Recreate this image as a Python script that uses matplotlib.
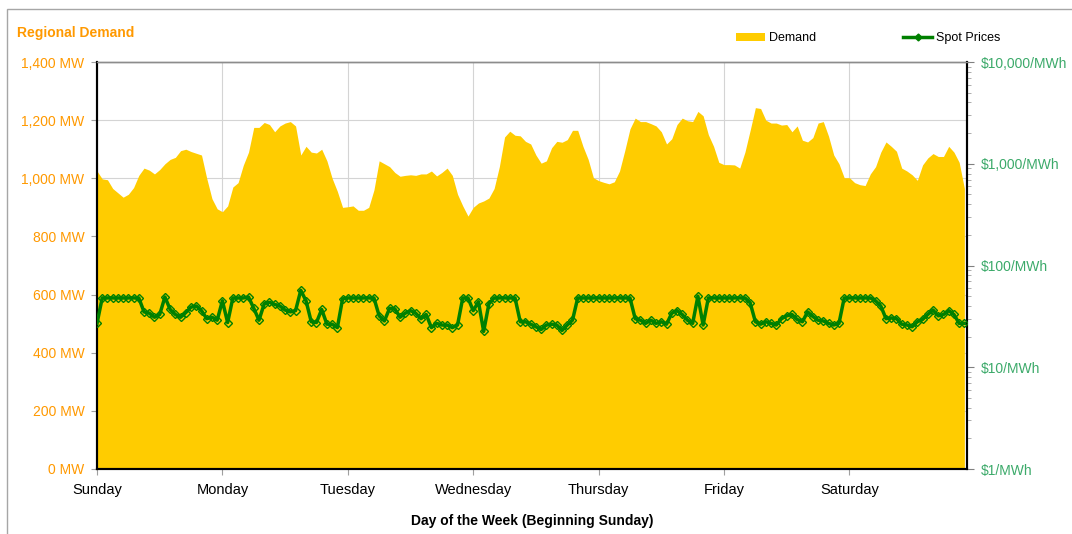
import numpy as np
import matplotlib
matplotlib.use("Agg")
import matplotlib.pyplot as plt
from matplotlib.patches import Patch, Rectangle
from matplotlib.lines import Line2D
from matplotlib.ticker import FixedLocator, LogLocator, NullFormatter

plt.rcParams['font.family'] = ['Liberation Sans', 'DejaVu Sans']

# === 資料 (每小時) ===
demand_mw = [
    1025, 998, 995, 965, 950, 935, 945, 968, 1010, 1035, 1028, 1015,
    1030, 1050, 1065, 1072, 1095, 1100, 1092, 1086, 1080, 1000, 930, 895,
    885, 905, 970, 985, 1045, 1090, 1175, 1175, 1192, 1185, 1160, 1180,
    1190, 1195, 1180, 1080, 1110, 1090, 1087, 1100, 1060, 1000, 955, 900,
    902, 905, 890, 890, 900, 960, 1060, 1050, 1040, 1020, 1007, 1010,
    1012, 1010, 1015, 1015, 1025, 1008, 1020, 1035, 1010, 945, 905, 870,
    900, 915, 922, 932, 965, 1040, 1142, 1162, 1148, 1146, 1127, 1118,
    1080, 1052, 1060, 1105, 1127, 1124, 1133, 1165, 1165, 1110, 1065, 1002,
    992, 986, 981, 988, 1025, 1095, 1170, 1207, 1195, 1195, 1188, 1180,
    1160, 1118, 1136, 1185, 1207, 1198, 1195, 1230, 1215, 1150, 1110, 1055,
    1047, 1047, 1046, 1035, 1090, 1165, 1243, 1240, 1200, 1190, 1190, 1183,
    1185, 1160, 1180, 1131, 1125, 1140, 1190, 1195, 1145, 1080, 1050, 1002,
    1002, 985, 978, 975, 1015, 1040, 1090, 1125, 1110, 1093, 1035, 1025,
    1012, 993, 1046, 1070, 1085, 1075, 1075, 1110, 1090, 1055, 965,
]

spot_price = [
    27, 48, 48, 48, 48, 48, 48, 48, 48, 35, 34, 31,
    33, 49, 37, 33, 31, 34.5, 39, 40, 36, 30, 31, 29,
    45, 27.5, 48, 48, 48, 49, 38, 29, 42, 43.5, 41.5, 40,
    36.5, 35, 36, 57, 45, 28, 27.5, 37, 26.5, 26.5, 24.5, 47,
    48, 48, 48, 48, 48, 48, 32, 28.5, 38, 37.5, 31, 34,
    36, 34, 30, 33, 24.5, 27, 26, 26, 24.5, 26, 48, 48,
    36, 44, 22.5, 42, 48, 48, 48, 48, 48, 28, 28, 26.5,
    25, 23.5, 26, 26.5, 26, 23, 26, 29, 48, 48, 48, 48,
    48, 48, 48, 48, 48, 48, 48, 30, 29, 27, 29, 27,
    28, 26.5, 34, 36, 33, 29, 27, 50, 26, 48, 48, 48,
    48, 48, 48, 48, 48, 43, 28, 26.5, 28, 27, 26, 30,
    32, 33, 29.5, 28, 35, 31.5, 29, 28.5, 27, 26, 27, 48,
    48, 48, 48, 48, 48, 45, 40, 30, 30.5, 30, 26.5, 26,
    25, 28, 29.5, 33, 36.5, 32, 33, 36, 33, 27, 27,
]

day_labels = ["Sunday", "Monday", "Tuesday", "Wednesday", "Thursday", "Friday", "Saturday"]
mw_ticks = [0, 200, 400, 600, 800, 1000, 1200, 1400]
price_ticks = [1, 10, 100, 1000, 10000]

hours = np.arange(len(demand_mw))

# === 顏色 ===
orange = "#FF9900"
yellow = "#FFCC00"
green = "#008000"
price_label_color = "#3CAA6A"

fig = plt.figure(figsize=(10.72, 5.34), dpi=100)
W, H = 1072, 534
ax = fig.add_axes([97 / W, 1 - 469 / H, (967 - 97) / W, (469 - 62) / H])

# 外框
fig.patches.append(Rectangle((7 / W, -0.2), 1.2, 1.2 - 9 / H, transform=fig.transFigure,
                             fill=False, edgecolor="#A6A6A6", linewidth=1.0, zorder=0))

ax.fill_between(hours, 0, demand_mw, color=yellow, linewidth=0, zorder=2)
ax.set_xlim(0, 166.5)
ax.set_ylim(0, 1400)
ax.set_axisbelow(True)

ax.yaxis.set_major_locator(FixedLocator(mw_ticks))
ax.set_yticklabels([f"{v:,} MW" for v in mw_ticks])
ax.xaxis.set_major_locator(FixedLocator([24 * i for i in range(len(day_labels))]))
ax.set_xticklabels(day_labels)
ax.grid(True, color="#D4D4D4", linewidth=0.8, zorder=0)

ax.tick_params(axis="y", colors="#A0A0A0", labelcolor=orange, labelsize=10, length=4, pad=5)
ax.tick_params(axis="x", colors="#A0A0A0", labelcolor="black", labelsize=10.5, length=4, pad=6)

for s in ["left", "bottom", "right"]:
    ax.spines[s].set_color("black")
    ax.spines[s].set_linewidth(1.5)
ax.spines["top"].set_color("#8C8C8C")
ax.spines["top"].set_linewidth(1.0)

ax.set_xlabel("Day of the Week (Beginning Sunday)", fontsize=10, fontweight="bold", labelpad=12)

# === 右軸：現貨價格 (對數) ===
ax2 = ax.twinx()
ax2.set_yscale("log")
ax2.set_ylim(1, 10000)
ax2.plot(hours, spot_price, color=green, linewidth=2.5, marker="D", markersize=4.5,
         markerfacecolor="none", markeredgecolor=green, markeredgewidth=1.0, zorder=3)
ax2.yaxis.set_major_locator(FixedLocator(price_ticks))
ax2.set_yticklabels([f"${v:,}/MWh" for v in price_ticks])
ax2.yaxis.set_minor_locator(LogLocator(base=10, subs=np.arange(2, 10)))
ax2.yaxis.set_minor_formatter(NullFormatter())
ax2.tick_params(axis="y", which="major", colors="#808080", labelcolor=price_label_color,
                labelsize=10, length=5, pad=5)
ax2.tick_params(axis="y", which="minor", colors="#A0A0A0", length=3)
for s in ["left", "bottom", "right"]:
    ax2.spines[s].set_color("black")
    ax2.spines[s].set_linewidth(1.5)
ax2.spines["top"].set_color("#8C8C8C")
ax2.spines["top"].set_linewidth(1.0)

# === 標題與圖例 ===
fig.text(17 / W, 1 - 33 / H, "Regional Demand", color=orange, fontsize=10,
         fontweight="bold", ha="left", va="center")

handles = [
    Patch(facecolor=yellow, edgecolor="none"),
    Line2D([], [], color=green, linewidth=2.5, marker="D", markersize=3.5,
           markerfacecolor=green, markeredgecolor=green),
]
fig.legend(handles, ["Demand", "Spot Prices"], ncol=2, frameon=False, fontsize=9,
           loc="center", bbox_to_anchor=(868 / W, 1 - 38 / H), handlelength=2.3,
           handleheight=0.6, handletextpad=0.3, columnspacing=7.0)

fig.savefig("out.png", dpi=100)
